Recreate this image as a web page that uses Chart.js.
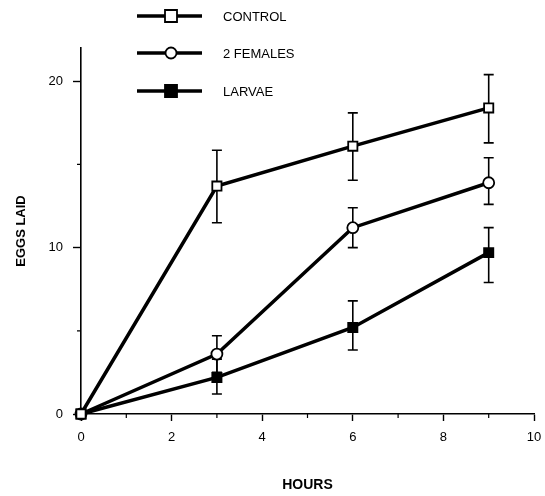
<!DOCTYPE html>
<html>
<head>
<meta charset="utf-8">
<script src="https://cdn.jsdelivr.net/npm/chart.js@4"></script>
<style>
  html, body { margin: 0; padding: 0; background: #fff; }
  #wrap { width: 545px; height: 496px; }
</style>
</head>
<body>
<div id="wrap"><canvas id="eggs"></canvas></div>
<script>
const hours = [0, 3, 6, 9];
const xTicks = [0, 2, 4, 6, 8, 10];
const yTicks = [0, 10, 20];
const xMinor = [1, 3, 5, 7, 9];
const yMinor = [5, 15];

const controlEggs = [0, 13.7, 16.1, 18.4];
const controlLow = [0, 11.5, 14.05, 16.3];
const controlHigh = [0, 15.85, 18.1, 20.4];

const femalesEggs = [0, 3.6, 11.2, 13.9];
const femalesLow = [0, 2.5, 10.0, 12.6];
const femalesHigh = [0, 4.7, 12.4, 15.4];

const larvaeEggs = [0, 2.2, 5.2, 9.7];
const larvaeLow = [0, 1.2, 3.85, 7.9];
const larvaeHigh = [0, 3.3, 6.8, 11.2];

const FONT = '"Liberation Sans", Arial, Helvetica, sans-serif';

function pts(ys) {
    return hours.map((h, i) => ({ x: h, y: ys[i] }));
}

// error bars, minor ticks and the line+marker legend
const extras = {
    id: 'extras',
    beforeDatasetsDraw(chart) {
        const ctx = chart.ctx, xs = chart.scales.x, ys = chart.scales.y;
        ctx.save();
        ctx.strokeStyle = '#000';
        ctx.lineWidth = 1.6;
        chart.data.datasets.forEach(ds => {
            ds.data.forEach((p, i) => {
                if (ds.low[i] === ds.high[i]) return;
                const px = xs.getPixelForValue(p.x);
                const y1 = ys.getPixelForValue(ds.low[i]);
                const y2 = ys.getPixelForValue(ds.high[i]);
                ctx.beginPath();
                ctx.moveTo(px, y1); ctx.lineTo(px, y2);
                ctx.moveTo(px - 5, y1); ctx.lineTo(px + 5, y1);
                ctx.moveTo(px - 5, y2); ctx.lineTo(px + 5, y2);
                ctx.stroke();
            });
        });
        // minor ticks
        ctx.lineWidth = 1.2;
        ctx.beginPath();
        xMinor.forEach(v => {
            const px = xs.getPixelForValue(v);
            ctx.moveTo(px, xs.top); ctx.lineTo(px, xs.top + 4);
        });
        yMinor.forEach(v => {
            const py = ys.getPixelForValue(v);
            ctx.moveTo(ys.right, py); ctx.lineTo(ys.right - 4, py);
        });
        ctx.stroke();
        ctx.restore();
    },
    afterDraw(chart) {
        const ctx = chart.ctx;
        const rows = [16, 53, 91];
        ctx.save();
        chart.data.datasets.forEach((ds, i) => {
            const y = rows[i];
            ctx.strokeStyle = '#000';
            ctx.lineWidth = 3.5;
            ctx.beginPath();
            ctx.moveTo(137, y); ctx.lineTo(202, y);
            ctx.stroke();
            ctx.lineWidth = 1.8;
            ctx.fillStyle = ds.pointBackgroundColor;
            ctx.beginPath();
            if (ds.pointStyle === 'circle') {
                ctx.arc(171, y, 5.5, 0, Math.PI * 2);
            } else {
                ctx.rect(165, y - 6, 12, 12);
            }
            ctx.fill();
            ctx.stroke();
            ctx.fillStyle = '#000';
            ctx.font = '13px ' + FONT;
            ctx.textBaseline = 'middle';
            ctx.fillText(ds.label, 223, y + 1);
        });
        ctx.restore();
    }
};

function series(label, ys, low, high, style, fill) {
    return {
        label: label,
        data: pts(ys),
        low: low,
        high: high,
        borderColor: '#000',
        borderWidth: 3.5,
        pointStyle: style,
        pointRadius: style === 'circle' ? 5.5 : 6.5,
        pointBorderWidth: 1.8,
        pointBorderColor: '#000',
        pointBackgroundColor: fill,
        tension: 0,
        clip: false
    };
}

new Chart('eggs', {
    type: 'line',
    data: {
        datasets: [
            series('CONTROL', controlEggs, controlLow, controlHigh, 'rect', '#fff'),
            series('2 FEMALES', femalesEggs, femalesLow, femalesHigh, 'circle', '#fff'),
            series('LARVAE', larvaeEggs, larvaeLow, larvaeHigh, 'rect', '#000')
        ]
    },
    plugins: [extras],
    options: {
        responsive: true,
        maintainAspectRatio: false,
        animation: false,
        layout: { padding: { top: 48, right: 11, left: 0, bottom: 0 } },
        plugins: { legend: { display: false }, tooltip: { enabled: false } },
        scales: {
            x: {
                type: 'linear',
                min: 0, max: 10,
                afterBuildTicks: s => { s.ticks = xTicks.map(v => ({ value: v })); },
                afterFit: s => { s.height = 82; s.paddingRight = 0; s.paddingLeft = 0; },
                grid: { drawOnChartArea: false, tickLength: 7, tickWidth: 1.4, tickColor: '#000' },
                border: { color: '#000', width: 1.6 },
                ticks: { color: '#000', font: { family: FONT, size: 13 }, padding: 9, maxRotation: 0 },
                title: { display: true, text: 'HOURS', color: '#000', font: { family: FONT, size: 14, weight: 'bold' }, padding: { top: 0, bottom: 2 } }
            },
            y: {
                min: 0, max: 22,
                afterBuildTicks: s => { s.ticks = yTicks.map(v => ({ value: v })); },
                afterFit: s => { s.width = 81; },
                grid: { drawOnChartArea: false, tickLength: 8, tickWidth: 1.4, tickColor: '#000' },
                border: { color: '#000', width: 1.6 },
                ticks: { color: '#000', font: { family: FONT, size: 13 }, padding: 10 },
                title: { display: true, text: 'EGGS LAID', color: '#000', font: { family: FONT, size: 13, weight: 'bold' }, padding: { top: 14, bottom: 0 } }
            }
        }
    }
});
</script>
</body>
</html>
